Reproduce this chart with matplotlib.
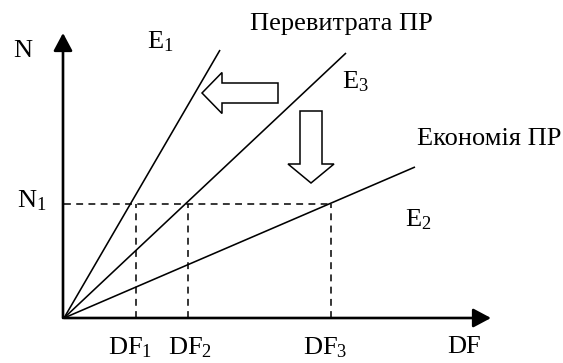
import matplotlib
matplotlib.use("Agg")
import matplotlib.pyplot as plt
from matplotlib.patches import FancyArrow

plt.rcParams['font.family'] = ['Liberation Serif', 'DejaVu Serif']
plt.rcParams['mathtext.fontset'] = 'custom'
plt.rcParams['mathtext.rm'] = 'Liberation Serif'
plt.rcParams['mathtext.it'] = 'Liberation Serif'

# data (chart units, origin at the axes corner)
df_labels = ['DF$_1$', 'DF$_2$', 'DF$_3$']
df_values = [72, 124, 267]
n1 = 114
line_names = ['E$_1$', 'E$_3$', 'E$_2$']
line_end_x = [156, 282, 351]
line_end_n = [268, 265, 151]
x_max = 427
y_max = 285

fig = plt.figure(figsize=(5.63, 3.63), dpi=100)
ax = fig.add_axes([0, 0, 1, 1])
ax.set_xlim(-64, 499)
ax.set_ylim(-45, 318)
ax.axis('off')

fs = 19

# axes with arrow heads
arrow_style = '-|>,head_length=0.6,head_width=0.32'
ax.annotate('', xy=(x_max, 0), xytext=(0, 0),
            arrowprops=dict(arrowstyle=arrow_style, lw=1.9, color='black',
                            mutation_scale=18, shrinkA=0, shrinkB=0))
ax.annotate('', xy=(-1, y_max), xytext=(-1, 0),
            arrowprops=dict(arrowstyle=arrow_style, lw=1.9, color='black',
                            mutation_scale=18, shrinkA=0, shrinkB=0))

# E lines from origin
for xe, ne in zip(line_end_x, line_end_n):
    ax.plot([0, xe], [0, ne], color='black', lw=1.15, solid_capstyle='butt')

# dashed guides
ax.plot([0, df_values[-1]], [n1, n1], color='black', lw=1.1, ls=(0, (4.5, 3.5)))
for d in df_values:
    ax.plot([d, d], [0, n1], color='black', lw=1.1, ls=(0, (4.5, 3.5)))

# hollow block arrows
ax.add_patch(FancyArrow(214, 225, -76, 0, width=20, head_width=41, head_length=20,
                        length_includes_head=True, fc='white', ec='black', lw=1.1))
ax.add_patch(FancyArrow(247, 207, 0, -72, width=22, head_width=46, head_length=19,
                        length_includes_head=True, fc='white', ec='black', lw=1.1))

# labels
kw = dict(fontsize=fs, ha='left', va='baseline')
ax.text(-51, 261, 'N', **kw)
ax.text(-47, 111, 'N$_1$', **kw)
ax.text(83, 270, line_names[0], **kw)
ax.text(278, 230, line_names[1], **kw)
ax.text(341, 92, line_names[2], **kw)
ax.text(186, 288, 'Перевитрата ПР', **kw)
ax.text(353, 173, 'Економія ПР', **kw)
for lab, lx in zip(df_labels, [44, 104, 239]):
    ax.text(lx, -36, lab, **kw)
ax.text(383, -35, 'DF', **kw)

fig.savefig('out.png', dpi=100)
